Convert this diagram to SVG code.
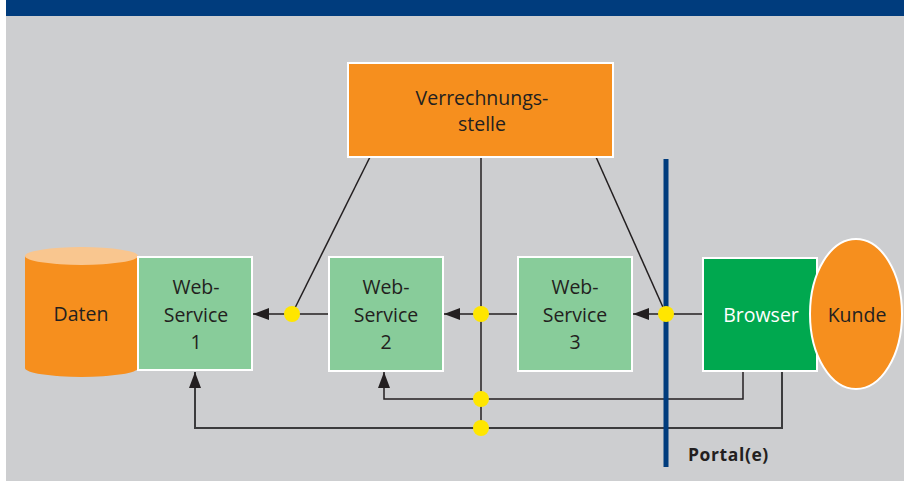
<svg xmlns="http://www.w3.org/2000/svg" width="904" height="481" viewBox="0 0 904 481">
  <defs>
    <style>
      .lbl { font-family: "Open Sans", "Noto Sans", "Liberation Sans", sans-serif; font-size: 19.5px; fill: #231f20; text-anchor: middle; }
      .white { fill: #ffffff; }
      .ws { fill: #88cc9a; stroke: #ffffff; stroke-width: 2; }
      .wire { fill: none; stroke: #231f20; stroke-width: 1.5; }
      .wire2 { fill: none; stroke: #3b3b3d; stroke-width: 2; }
      .dot { fill: #ffe600; }
    </style>
    <marker id="arrow" viewBox="0 0 16 12" refX="16" refY="6" markerWidth="16" markerHeight="12" markerUnits="userSpaceOnUse" orient="auto">
      <path d="M0,0 L16,6 L0,12 Z" fill="#231f20"/>
    </marker>
  </defs>

  <!-- page background -->
  <rect x="0" y="0" width="904" height="481" fill="#ffffff"/>
  <rect x="6" y="0" width="898" height="481" fill="#cdced0"/>
  <rect x="6" y="0" width="898" height="16" fill="#003c7d"/>

  <!-- connectors -->
  <g id="connectors">
    <line class="wire" x1="370" y1="157" x2="292" y2="314"/>
    <line class="wire" x1="596" y1="157" x2="666" y2="314"/>
    <line class="wire" x1="481" y1="157" x2="481" y2="427"/>
    <line class="wire" x1="703" y1="314" x2="633" y2="314" marker-end="url(#arrow)"/>
    <line class="wire" x1="518" y1="314" x2="444" y2="314" marker-end="url(#arrow)"/>
    <line class="wire" x1="329" y1="314" x2="253" y2="314" marker-end="url(#arrow)"/>
    <polyline class="wire" points="743,371 743,399 384,399 384,372" marker-end="url(#arrow)"/>
    <polyline class="wire2" points="782,371 782,428 195,428 195,372" marker-end="url(#arrow)"/>
  </g>

  <!-- portal boundary -->
  <g id="portal">
    <line x1="666" y1="159" x2="666" y2="467" stroke="#003c7d" stroke-width="5"/>
    <text x="688" y="461" font-family="'Open Sans', 'Noto Sans', 'Liberation Sans', sans-serif" font-size="17.5" font-weight="bold" fill="#231f20" letter-spacing="0.6">Portal(e)</text>
  </g>

  <!-- junction dots -->
  <g id="junctions">
    <circle class="dot" cx="292" cy="314" r="8"/>
    <circle class="dot" cx="481" cy="314" r="8"/>
    <circle class="dot" cx="666" cy="314" r="8"/>
    <circle class="dot" cx="481" cy="399" r="8"/>
    <circle class="dot" cx="481" cy="428" r="8"/>
  </g>

  <g id="verrechnungsstelle">
    <rect x="348" y="63" width="265" height="94" fill="#f68f1e" stroke="#ffffff" stroke-width="2"/>
    <text class="lbl" x="482" y="105">Verrechnungs-</text>
    <text class="lbl" x="482" y="131">stelle</text>
  </g>

  <g id="daten">
    <path d="M25,256 L25,368 A56.5,9 0 0 0 138,368 L138,256 Z" fill="#f68f1e"/>
    <ellipse cx="81.5" cy="256" rx="56.5" ry="9" fill="#f9c68f"/>
    <text class="lbl" x="81" y="321">Daten</text>
  </g>

  <g id="webservice1">
    <rect class="ws" x="138" y="257" width="114" height="113"/>
    <text class="lbl" x="196" y="294">Web-</text>
    <text class="lbl" x="196" y="322">Service</text>
    <text class="lbl" x="196" y="349">1</text>
  </g>

  <g id="webservice2">
    <rect class="ws" x="329" y="257" width="114" height="114"/>
    <text class="lbl" x="386" y="294">Web-</text>
    <text class="lbl" x="386" y="322">Service</text>
    <text class="lbl" x="386" y="349">2</text>
  </g>

  <g id="webservice3">
    <rect class="ws" x="518" y="257" width="114" height="114"/>
    <text class="lbl" x="575" y="294">Web-</text>
    <text class="lbl" x="575" y="322">Service</text>
    <text class="lbl" x="575" y="349">3</text>
  </g>

  <g id="browser">
    <rect x="703" y="258" width="114" height="113" fill="#00a84f" stroke="#ffffff" stroke-width="2"/>
    <text class="lbl white" x="761" y="322">Browser</text>
  </g>

  <g id="kunde">
    <ellipse cx="856" cy="314" rx="46" ry="75" fill="#f68f1e" stroke="#ffffff" stroke-width="2"/>
    <text class="lbl" x="857" y="322">Kunde</text>
  </g>
</svg>
